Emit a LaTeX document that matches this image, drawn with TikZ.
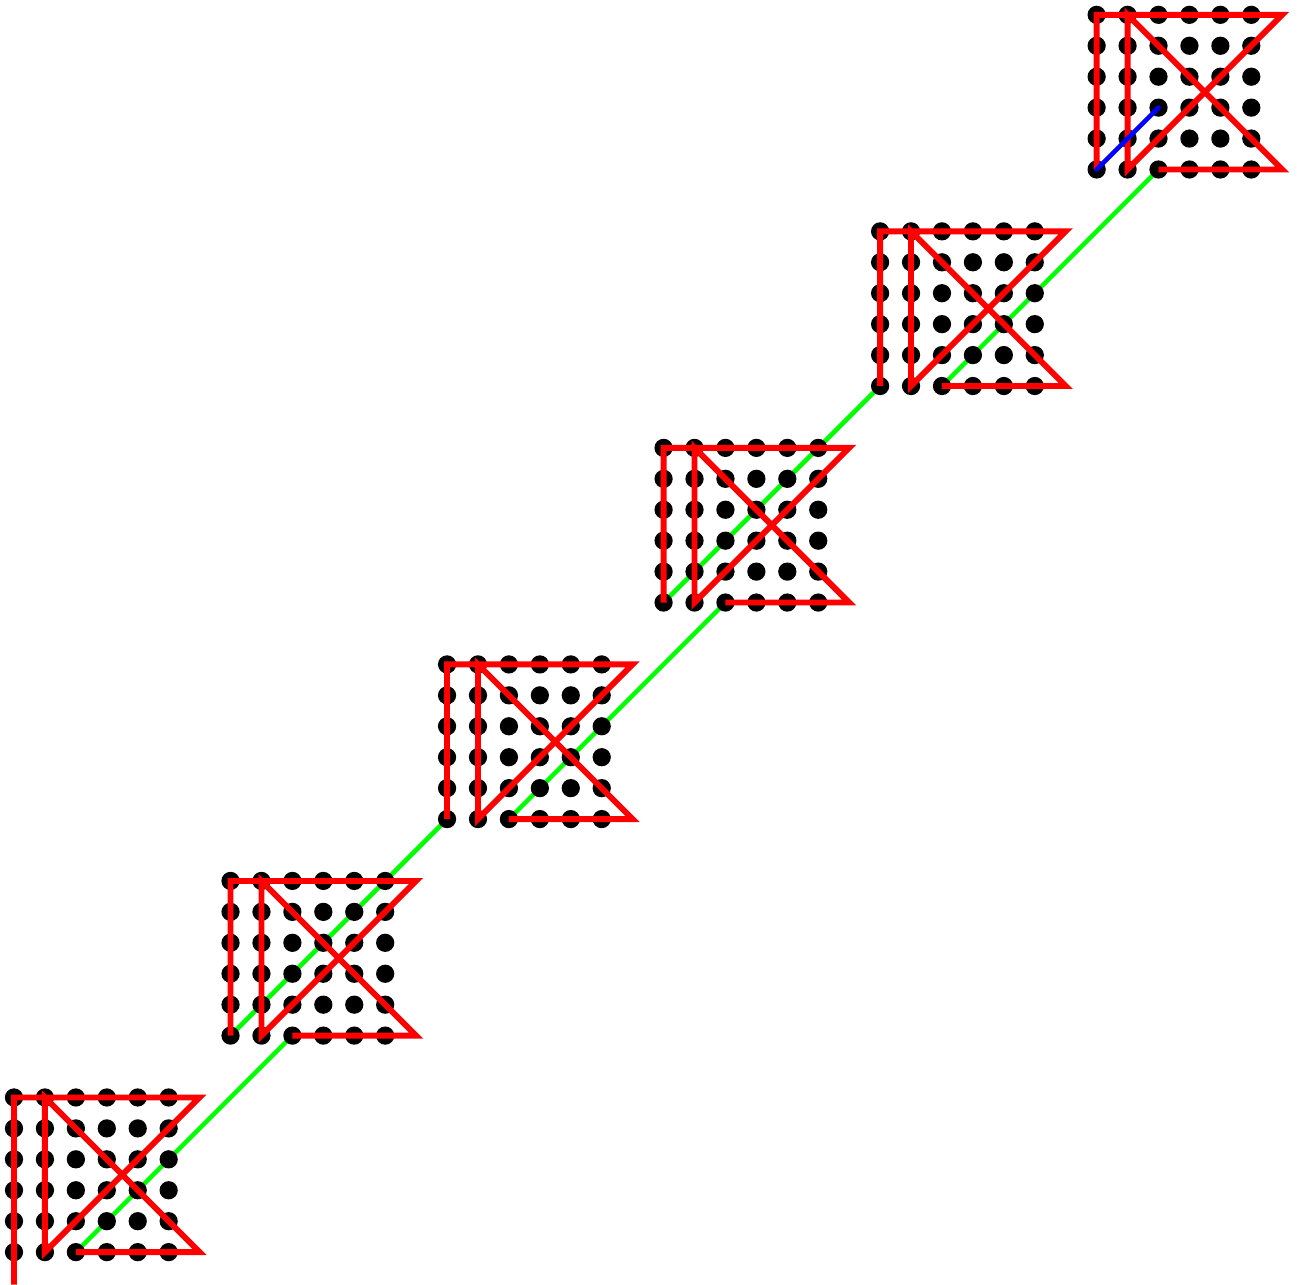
\documentclass[tikz,border=0pt]{standalone}
\begin{document}
\begin{tikzpicture}[x=1cm,y=1cm,
  gridpt/.style={fill=black},
  redpath/.style={draw=red,line width=5.4pt,line join=miter,miter limit=10},
  greenpath/.style={draw=green,line width=4.2pt,line cap=round},
  bluepath/.style={draw=blue,line width=4.2pt,line cap=round}]
\useasboundingbox (-0.4526,-1.035) rectangle (41.51,40.48);
\foreach \k in {0,...,5}{
  \coordinate (o\k) at ({7*\k},{7*\k});
  \coordinate (e\k) at ({7*\k+2},{7*\k});
  \coordinate (m\k) at ({7*\k+2},{7*\k+2});
}
\coordinate (start) at (0,-1.05);
% green connectors between blocks
\draw[greenpath] (e0) -- (e1);
\draw[greenpath] (o1) -- (o2);
\draw[greenpath] (e2) -- (e3);
\draw[greenpath] (o3) -- (o4);
\draw[greenpath] (e4) -- (e5);
% dots
\foreach \k in {0,...,5}
  \foreach \i in {0,...,5}
    \foreach \j in {0,...,5}
      \fill[gridpt] ({7*\k+\i},{7*\k+\j}) circle (0.295);
% red paths
\draw[redpath] (start) -- (0,5) -- (6,5) -- (1,0) -- (1,5) -- (6,0) -- (e0);
\foreach \k in {1,...,5}{
  \draw[redpath] (o\k) -- ++(0,5) -- ++(6,0) -- ++(-5,-5) -- ++(0,5) -- ++(5,-5) -- (e\k);
}
% blue
\draw[bluepath] (o5) -- (m5);
\end{tikzpicture}
\end{document}
